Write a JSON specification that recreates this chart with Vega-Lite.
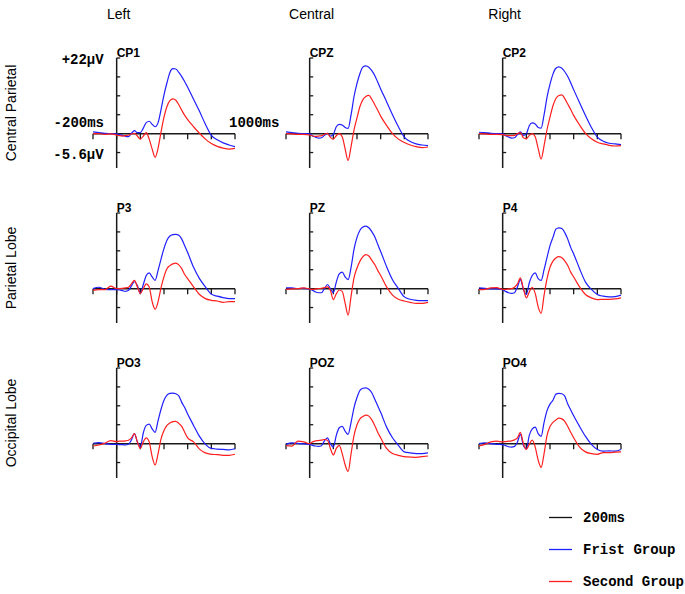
{
"$schema": "https://vega.github.io/schema/vega-lite/v6.json",
"padding": {"left": 5, "top": 8, "right": 5, "bottom": 5},
"background": "white",
"bounds": "flush",
"config": {"view": {"stroke": null}, "font": "Liberation Sans"},
"data": {"values": [
{"k":"lab","p":"CP1"},{"k":"lab","p":"CPZ"},{"k":"lab","p":"CP2"},{"k":"lab","p":"P3"},{"k":"lab","p":"PZ"},{"k":"lab","p":"P4"},{"k":"lab","p":"PO3"},{"k":"lab","p":"POZ"},{"k":"lab","p":"PO4"},
{"k":"col","p":"CP1","txt":"Left"},{"k":"col","p":"CPZ","txt":"Central"},{"k":"col","p":"CP2","txt":"Right"},
{"k":"ya","p":"CP1","v":22,"txt":"+22µV"},{"k":"ya","p":"CP1","v":-5.6,"txt":"-5.6µV"},
{"k":"xa0","p":"CP1","t":-200,"txt":"-200ms"},{"k":"xa1","p":"CP1","t":1000,"txt":"1000ms"},
{"k":"xt","p":"CP1","t":-200},{"k":"xt","p":"CP1","t":0},{"k":"xt","p":"CP1","t":200},{"k":"xt","p":"CP1","t":400},{"k":"xt","p":"CP1","t":600},{"k":"xt","p":"CP1","t":800},{"k":"xt","p":"CP1","t":1000},
{"k":"xt","p":"CPZ","t":-200},{"k":"xt","p":"CPZ","t":0},{"k":"xt","p":"CPZ","t":200},{"k":"xt","p":"CPZ","t":400},{"k":"xt","p":"CPZ","t":600},{"k":"xt","p":"CPZ","t":800},{"k":"xt","p":"CPZ","t":1000},
{"k":"xt","p":"CP2","t":-200},{"k":"xt","p":"CP2","t":0},{"k":"xt","p":"CP2","t":200},{"k":"xt","p":"CP2","t":400},{"k":"xt","p":"CP2","t":600},{"k":"xt","p":"CP2","t":800},{"k":"xt","p":"CP2","t":1000},
{"k":"xt","p":"P3","t":-200},{"k":"xt","p":"P3","t":0},{"k":"xt","p":"P3","t":200},{"k":"xt","p":"P3","t":400},{"k":"xt","p":"P3","t":600},{"k":"xt","p":"P3","t":800},{"k":"xt","p":"P3","t":1000},
{"k":"xt","p":"PZ","t":-200},{"k":"xt","p":"PZ","t":0},{"k":"xt","p":"PZ","t":200},{"k":"xt","p":"PZ","t":400},{"k":"xt","p":"PZ","t":600},{"k":"xt","p":"PZ","t":800},{"k":"xt","p":"PZ","t":1000},
{"k":"xt","p":"P4","t":-200},{"k":"xt","p":"P4","t":0},{"k":"xt","p":"P4","t":200},{"k":"xt","p":"P4","t":400},{"k":"xt","p":"P4","t":600},{"k":"xt","p":"P4","t":800},{"k":"xt","p":"P4","t":1000},
{"k":"xt","p":"PO3","t":-200},{"k":"xt","p":"PO3","t":0},{"k":"xt","p":"PO3","t":200},{"k":"xt","p":"PO3","t":400},{"k":"xt","p":"PO3","t":600},{"k":"xt","p":"PO3","t":800},{"k":"xt","p":"PO3","t":1000},
{"k":"xt","p":"POZ","t":-200},{"k":"xt","p":"POZ","t":0},{"k":"xt","p":"POZ","t":200},{"k":"xt","p":"POZ","t":400},{"k":"xt","p":"POZ","t":600},{"k":"xt","p":"POZ","t":800},{"k":"xt","p":"POZ","t":1000},
{"k":"xt","p":"PO4","t":-200},{"k":"xt","p":"PO4","t":0},{"k":"xt","p":"PO4","t":200},{"k":"xt","p":"PO4","t":400},{"k":"xt","p":"PO4","t":600},{"k":"xt","p":"PO4","t":800},{"k":"xt","p":"PO4","t":1000},
{"k":"yt","p":"CP1","v":-5.5},{"k":"yt","p":"CP1","v":5.5},{"k":"yt","p":"CP1","v":11},{"k":"yt","p":"CP1","v":16.5},{"k":"yt","p":"CP1","v":22},
{"k":"yt","p":"CPZ","v":-5.5},{"k":"yt","p":"CPZ","v":5.5},{"k":"yt","p":"CPZ","v":11},{"k":"yt","p":"CPZ","v":16.5},{"k":"yt","p":"CPZ","v":22},
{"k":"yt","p":"CP2","v":-5.5},{"k":"yt","p":"CP2","v":5.5},{"k":"yt","p":"CP2","v":11},{"k":"yt","p":"CP2","v":16.5},{"k":"yt","p":"CP2","v":22},
{"k":"yt","p":"P3","v":-5.5},{"k":"yt","p":"P3","v":5.5},{"k":"yt","p":"P3","v":11},{"k":"yt","p":"P3","v":16.5},{"k":"yt","p":"P3","v":22},
{"k":"yt","p":"PZ","v":-5.5},{"k":"yt","p":"PZ","v":5.5},{"k":"yt","p":"PZ","v":11},{"k":"yt","p":"PZ","v":16.5},{"k":"yt","p":"PZ","v":22},
{"k":"yt","p":"P4","v":-5.5},{"k":"yt","p":"P4","v":5.5},{"k":"yt","p":"P4","v":11},{"k":"yt","p":"P4","v":16.5},{"k":"yt","p":"P4","v":22},
{"k":"yt","p":"PO3","v":-5.5},{"k":"yt","p":"PO3","v":5.5},{"k":"yt","p":"PO3","v":11},{"k":"yt","p":"PO3","v":16.5},{"k":"yt","p":"PO3","v":22},
{"k":"yt","p":"POZ","v":-5.5},{"k":"yt","p":"POZ","v":5.5},{"k":"yt","p":"POZ","v":11},{"k":"yt","p":"POZ","v":16.5},{"k":"yt","p":"POZ","v":22},
{"k":"yt","p":"PO4","v":-5.5},{"k":"yt","p":"PO4","v":5.5},{"k":"yt","p":"PO4","v":11},{"k":"yt","p":"PO4","v":16.5},{"k":"yt","p":"PO4","v":22},

{"k":"w","p":"CP1","g":"Frist Group","t":-200,"v":0.5},{"k":"w","p":"CP1","g":"Frist Group","t":-150,"v":0.3},{"k":"w","p":"CP1","g":"Frist Group","t":-100,"v":0.1},{"k":"w","p":"CP1","g":"Frist Group","t":-50,"v":0},{"k":"w","p":"CP1","g":"Frist Group","t":0,"v":-0.1},{"k":"w","p":"CP1","g":"Frist Group","t":25,"v":-0.3},{"k":"w","p":"CP1","g":"Frist Group","t":50,"v":-0.5},{"k":"w","p":"CP1","g":"Frist Group","t":75,"v":-0.8},{"k":"w","p":"CP1","g":"Frist Group","t":100,"v":-0.9},{"k":"w","p":"CP1","g":"Frist Group","t":125,"v":0.1},{"k":"w","p":"CP1","g":"Frist Group","t":150,"v":0.9},{"k":"w","p":"CP1","g":"Frist Group","t":175,"v":0.3},{"k":"w","p":"CP1","g":"Frist Group","t":200,"v":0.3},{"k":"w","p":"CP1","g":"Frist Group","t":225,"v":1.6},{"k":"w","p":"CP1","g":"Frist Group","t":250,"v":3.2},{"k":"w","p":"CP1","g":"Frist Group","t":275,"v":3.6},{"k":"w","p":"CP1","g":"Frist Group","t":300,"v":2.7},{"k":"w","p":"CP1","g":"Frist Group","t":325,"v":2.0},{"k":"w","p":"CP1","g":"Frist Group","t":350,"v":3.2},{"k":"w","p":"CP1","g":"Frist Group","t":375,"v":7.0},{"k":"w","p":"CP1","g":"Frist Group","t":400,"v":11.3},{"k":"w","p":"CP1","g":"Frist Group","t":425,"v":14.8},{"k":"w","p":"CP1","g":"Frist Group","t":450,"v":17.8},{"k":"w","p":"CP1","g":"Frist Group","t":475,"v":18.9},{"k":"w","p":"CP1","g":"Frist Group","t":500,"v":18.8},{"k":"w","p":"CP1","g":"Frist Group","t":525,"v":17.8},{"k":"w","p":"CP1","g":"Frist Group","t":550,"v":16.6},{"k":"w","p":"CP1","g":"Frist Group","t":575,"v":15.1},{"k":"w","p":"CP1","g":"Frist Group","t":600,"v":13.5},{"k":"w","p":"CP1","g":"Frist Group","t":650,"v":10.0},{"k":"w","p":"CP1","g":"Frist Group","t":700,"v":6.5},{"k":"w","p":"CP1","g":"Frist Group","t":750,"v":2.7},{"k":"w","p":"CP1","g":"Frist Group","t":800,"v":-0.5},{"k":"w","p":"CP1","g":"Frist Group","t":850,"v":-1.8},{"k":"w","p":"CP1","g":"Frist Group","t":900,"v":-2.7},{"k":"w","p":"CP1","g":"Frist Group","t":950,"v":-3.3},{"k":"w","p":"CP1","g":"Frist Group","t":1000,"v":-3.8},
{"k":"w","p":"CP1","g":"Second Group","t":-200,"v":0},{"k":"w","p":"CP1","g":"Second Group","t":-150,"v":0},{"k":"w","p":"CP1","g":"Second Group","t":-100,"v":-0.2},{"k":"w","p":"CP1","g":"Second Group","t":-50,"v":-0.1},{"k":"w","p":"CP1","g":"Second Group","t":0,"v":-0.4},{"k":"w","p":"CP1","g":"Second Group","t":25,"v":-0.6},{"k":"w","p":"CP1","g":"Second Group","t":50,"v":-0.7},{"k":"w","p":"CP1","g":"Second Group","t":75,"v":-0.6},{"k":"w","p":"CP1","g":"Second Group","t":100,"v":-0.4},{"k":"w","p":"CP1","g":"Second Group","t":125,"v":-0.1},{"k":"w","p":"CP1","g":"Second Group","t":150,"v":0.1},{"k":"w","p":"CP1","g":"Second Group","t":175,"v":-0.7},{"k":"w","p":"CP1","g":"Second Group","t":200,"v":-1.6},{"k":"w","p":"CP1","g":"Second Group","t":225,"v":-0.7},{"k":"w","p":"CP1","g":"Second Group","t":250,"v":0.3},{"k":"w","p":"CP1","g":"Second Group","t":275,"v":-1.6},{"k":"w","p":"CP1","g":"Second Group","t":300,"v":-4.5},{"k":"w","p":"CP1","g":"Second Group","t":325,"v":-6.9},{"k":"w","p":"CP1","g":"Second Group","t":350,"v":-4.2},{"k":"w","p":"CP1","g":"Second Group","t":375,"v":0.5},{"k":"w","p":"CP1","g":"Second Group","t":400,"v":4.8},{"k":"w","p":"CP1","g":"Second Group","t":425,"v":7.9},{"k":"w","p":"CP1","g":"Second Group","t":450,"v":9.6},{"k":"w","p":"CP1","g":"Second Group","t":475,"v":10.1},{"k":"w","p":"CP1","g":"Second Group","t":500,"v":9.7},{"k":"w","p":"CP1","g":"Second Group","t":525,"v":8.4},{"k":"w","p":"CP1","g":"Second Group","t":550,"v":6.8},{"k":"w","p":"CP1","g":"Second Group","t":575,"v":5.3},{"k":"w","p":"CP1","g":"Second Group","t":600,"v":4.1},{"k":"w","p":"CP1","g":"Second Group","t":650,"v":2.0},{"k":"w","p":"CP1","g":"Second Group","t":700,"v":0.1},{"k":"w","p":"CP1","g":"Second Group","t":750,"v":-1.6},{"k":"w","p":"CP1","g":"Second Group","t":800,"v":-2.9},{"k":"w","p":"CP1","g":"Second Group","t":850,"v":-3.7},{"k":"w","p":"CP1","g":"Second Group","t":900,"v":-4.2},{"k":"w","p":"CP1","g":"Second Group","t":950,"v":-4.5},{"k":"w","p":"CP1","g":"Second Group","t":1000,"v":-4.3},

{"k":"w","p":"CPZ","g":"Frist Group","t":-200,"v":0.5},{"k":"w","p":"CPZ","g":"Frist Group","t":-150,"v":0.3},{"k":"w","p":"CPZ","g":"Frist Group","t":-100,"v":0.1},{"k":"w","p":"CPZ","g":"Frist Group","t":-50,"v":0},{"k":"w","p":"CPZ","g":"Frist Group","t":0,"v":-0.1},{"k":"w","p":"CPZ","g":"Frist Group","t":25,"v":-0.7},{"k":"w","p":"CPZ","g":"Frist Group","t":50,"v":-1.0},{"k":"w","p":"CPZ","g":"Frist Group","t":75,"v":-1.3},{"k":"w","p":"CPZ","g":"Frist Group","t":100,"v":-1.2},{"k":"w","p":"CPZ","g":"Frist Group","t":125,"v":-0.5},{"k":"w","p":"CPZ","g":"Frist Group","t":150,"v":0.1},{"k":"w","p":"CPZ","g":"Frist Group","t":175,"v":-0.7},{"k":"w","p":"CPZ","g":"Frist Group","t":200,"v":-0.2},{"k":"w","p":"CPZ","g":"Frist Group","t":225,"v":2.0},{"k":"w","p":"CPZ","g":"Frist Group","t":250,"v":2.7},{"k":"w","p":"CPZ","g":"Frist Group","t":275,"v":2.5},{"k":"w","p":"CPZ","g":"Frist Group","t":300,"v":1.8},{"k":"w","p":"CPZ","g":"Frist Group","t":325,"v":1.5},{"k":"w","p":"CPZ","g":"Frist Group","t":350,"v":5.5},{"k":"w","p":"CPZ","g":"Frist Group","t":375,"v":10.8},{"k":"w","p":"CPZ","g":"Frist Group","t":400,"v":14.6},{"k":"w","p":"CPZ","g":"Frist Group","t":425,"v":17.5},{"k":"w","p":"CPZ","g":"Frist Group","t":450,"v":19.4},{"k":"w","p":"CPZ","g":"Frist Group","t":475,"v":19.7},{"k":"w","p":"CPZ","g":"Frist Group","t":500,"v":19.3},{"k":"w","p":"CPZ","g":"Frist Group","t":525,"v":18.3},{"k":"w","p":"CPZ","g":"Frist Group","t":550,"v":16.9},{"k":"w","p":"CPZ","g":"Frist Group","t":575,"v":15.0},{"k":"w","p":"CPZ","g":"Frist Group","t":600,"v":13.0},{"k":"w","p":"CPZ","g":"Frist Group","t":650,"v":9.3},{"k":"w","p":"CPZ","g":"Frist Group","t":700,"v":5.5},{"k":"w","p":"CPZ","g":"Frist Group","t":750,"v":2.0},{"k":"w","p":"CPZ","g":"Frist Group","t":800,"v":-1.0},{"k":"w","p":"CPZ","g":"Frist Group","t":850,"v":-2.3},{"k":"w","p":"CPZ","g":"Frist Group","t":900,"v":-3.0},{"k":"w","p":"CPZ","g":"Frist Group","t":950,"v":-3.3},{"k":"w","p":"CPZ","g":"Frist Group","t":1000,"v":-3.5},
{"k":"w","p":"CPZ","g":"Second Group","t":-200,"v":0},{"k":"w","p":"CPZ","g":"Second Group","t":-150,"v":-0.1},{"k":"w","p":"CPZ","g":"Second Group","t":-100,"v":-0.2},{"k":"w","p":"CPZ","g":"Second Group","t":-50,"v":-0.2},{"k":"w","p":"CPZ","g":"Second Group","t":0,"v":-0.4},{"k":"w","p":"CPZ","g":"Second Group","t":25,"v":-0.7},{"k":"w","p":"CPZ","g":"Second Group","t":50,"v":-0.8},{"k":"w","p":"CPZ","g":"Second Group","t":75,"v":-0.7},{"k":"w","p":"CPZ","g":"Second Group","t":100,"v":-0.6},{"k":"w","p":"CPZ","g":"Second Group","t":125,"v":-0.2},{"k":"w","p":"CPZ","g":"Second Group","t":150,"v":0.1},{"k":"w","p":"CPZ","g":"Second Group","t":175,"v":-1.1},{"k":"w","p":"CPZ","g":"Second Group","t":200,"v":-1.6},{"k":"w","p":"CPZ","g":"Second Group","t":225,"v":-0.6},{"k":"w","p":"CPZ","g":"Second Group","t":250,"v":0},{"k":"w","p":"CPZ","g":"Second Group","t":275,"v":-0.9},{"k":"w","p":"CPZ","g":"Second Group","t":300,"v":-4.5},{"k":"w","p":"CPZ","g":"Second Group","t":325,"v":-7.8},{"k":"w","p":"CPZ","g":"Second Group","t":350,"v":-3.7},{"k":"w","p":"CPZ","g":"Second Group","t":375,"v":1.1},{"k":"w","p":"CPZ","g":"Second Group","t":400,"v":4.6},{"k":"w","p":"CPZ","g":"Second Group","t":425,"v":7.9},{"k":"w","p":"CPZ","g":"Second Group","t":450,"v":9.9},{"k":"w","p":"CPZ","g":"Second Group","t":475,"v":10.8},{"k":"w","p":"CPZ","g":"Second Group","t":500,"v":11.1},{"k":"w","p":"CPZ","g":"Second Group","t":525,"v":10.0},{"k":"w","p":"CPZ","g":"Second Group","t":550,"v":8.4},{"k":"w","p":"CPZ","g":"Second Group","t":575,"v":6.8},{"k":"w","p":"CPZ","g":"Second Group","t":600,"v":5.1},{"k":"w","p":"CPZ","g":"Second Group","t":650,"v":2.4},{"k":"w","p":"CPZ","g":"Second Group","t":700,"v":0},{"k":"w","p":"CPZ","g":"Second Group","t":750,"v":-1.6},{"k":"w","p":"CPZ","g":"Second Group","t":800,"v":-2.6},{"k":"w","p":"CPZ","g":"Second Group","t":850,"v":-3.3},{"k":"w","p":"CPZ","g":"Second Group","t":900,"v":-3.8},{"k":"w","p":"CPZ","g":"Second Group","t":950,"v":-4.1},{"k":"w","p":"CPZ","g":"Second Group","t":1000,"v":-3.9},

{"k":"w","p":"CP2","g":"Frist Group","t":-200,"v":0.4},{"k":"w","p":"CP2","g":"Frist Group","t":-150,"v":0.3},{"k":"w","p":"CP2","g":"Frist Group","t":-100,"v":0.1},{"k":"w","p":"CP2","g":"Frist Group","t":-50,"v":0},{"k":"w","p":"CP2","g":"Frist Group","t":0,"v":-0.1},{"k":"w","p":"CP2","g":"Frist Group","t":25,"v":-0.6},{"k":"w","p":"CP2","g":"Frist Group","t":50,"v":-1.0},{"k":"w","p":"CP2","g":"Frist Group","t":75,"v":-1.3},{"k":"w","p":"CP2","g":"Frist Group","t":100,"v":-1.2},{"k":"w","p":"CP2","g":"Frist Group","t":125,"v":-0.3},{"k":"w","p":"CP2","g":"Frist Group","t":150,"v":0.5},{"k":"w","p":"CP2","g":"Frist Group","t":175,"v":-0.5},{"k":"w","p":"CP2","g":"Frist Group","t":200,"v":0},{"k":"w","p":"CP2","g":"Frist Group","t":225,"v":2.3},{"k":"w","p":"CP2","g":"Frist Group","t":250,"v":3.1},{"k":"w","p":"CP2","g":"Frist Group","t":275,"v":2.8},{"k":"w","p":"CP2","g":"Frist Group","t":300,"v":1.8},{"k":"w","p":"CP2","g":"Frist Group","t":325,"v":1.6},{"k":"w","p":"CP2","g":"Frist Group","t":350,"v":5.5},{"k":"w","p":"CP2","g":"Frist Group","t":375,"v":10.6},{"k":"w","p":"CP2","g":"Frist Group","t":400,"v":14.4},{"k":"w","p":"CP2","g":"Frist Group","t":425,"v":17.3},{"k":"w","p":"CP2","g":"Frist Group","t":450,"v":19.0},{"k":"w","p":"CP2","g":"Frist Group","t":475,"v":19.4},{"k":"w","p":"CP2","g":"Frist Group","t":500,"v":19.0},{"k":"w","p":"CP2","g":"Frist Group","t":525,"v":18.0},{"k":"w","p":"CP2","g":"Frist Group","t":550,"v":16.6},{"k":"w","p":"CP2","g":"Frist Group","t":575,"v":14.8},{"k":"w","p":"CP2","g":"Frist Group","t":600,"v":12.8},{"k":"w","p":"CP2","g":"Frist Group","t":650,"v":9.0},{"k":"w","p":"CP2","g":"Frist Group","t":700,"v":5.3},{"k":"w","p":"CP2","g":"Frist Group","t":750,"v":1.8},{"k":"w","p":"CP2","g":"Frist Group","t":800,"v":-1.0},{"k":"w","p":"CP2","g":"Frist Group","t":850,"v":-2.2},{"k":"w","p":"CP2","g":"Frist Group","t":900,"v":-2.8},{"k":"w","p":"CP2","g":"Frist Group","t":950,"v":-3.0},{"k":"w","p":"CP2","g":"Frist Group","t":1000,"v":-3.2},
{"k":"w","p":"CP2","g":"Second Group","t":-200,"v":0},{"k":"w","p":"CP2","g":"Second Group","t":-150,"v":-0.1},{"k":"w","p":"CP2","g":"Second Group","t":-100,"v":-0.2},{"k":"w","p":"CP2","g":"Second Group","t":-50,"v":-0.2},{"k":"w","p":"CP2","g":"Second Group","t":0,"v":-0.3},{"k":"w","p":"CP2","g":"Second Group","t":25,"v":-0.5},{"k":"w","p":"CP2","g":"Second Group","t":50,"v":-0.6},{"k":"w","p":"CP2","g":"Second Group","t":75,"v":-0.6},{"k":"w","p":"CP2","g":"Second Group","t":100,"v":-0.5},{"k":"w","p":"CP2","g":"Second Group","t":125,"v":0},{"k":"w","p":"CP2","g":"Second Group","t":150,"v":0.3},{"k":"w","p":"CP2","g":"Second Group","t":175,"v":-1.2},{"k":"w","p":"CP2","g":"Second Group","t":200,"v":-1.5},{"k":"w","p":"CP2","g":"Second Group","t":225,"v":-0.5},{"k":"w","p":"CP2","g":"Second Group","t":250,"v":0},{"k":"w","p":"CP2","g":"Second Group","t":275,"v":-0.9},{"k":"w","p":"CP2","g":"Second Group","t":300,"v":-4.3},{"k":"w","p":"CP2","g":"Second Group","t":325,"v":-7.4},{"k":"w","p":"CP2","g":"Second Group","t":350,"v":-3.5},{"k":"w","p":"CP2","g":"Second Group","t":375,"v":1.2},{"k":"w","p":"CP2","g":"Second Group","t":400,"v":4.8},{"k":"w","p":"CP2","g":"Second Group","t":425,"v":8.1},{"k":"w","p":"CP2","g":"Second Group","t":450,"v":10.2},{"k":"w","p":"CP2","g":"Second Group","t":475,"v":11.1},{"k":"w","p":"CP2","g":"Second Group","t":500,"v":11.3},{"k":"w","p":"CP2","g":"Second Group","t":525,"v":10.2},{"k":"w","p":"CP2","g":"Second Group","t":550,"v":8.6},{"k":"w","p":"CP2","g":"Second Group","t":575,"v":7.0},{"k":"w","p":"CP2","g":"Second Group","t":600,"v":5.3},{"k":"w","p":"CP2","g":"Second Group","t":650,"v":2.5},{"k":"w","p":"CP2","g":"Second Group","t":700,"v":0.1},{"k":"w","p":"CP2","g":"Second Group","t":750,"v":-1.5},{"k":"w","p":"CP2","g":"Second Group","t":800,"v":-2.5},{"k":"w","p":"CP2","g":"Second Group","t":850,"v":-3.0},{"k":"w","p":"CP2","g":"Second Group","t":900,"v":-3.4},{"k":"w","p":"CP2","g":"Second Group","t":950,"v":-3.6},{"k":"w","p":"CP2","g":"Second Group","t":1000,"v":-3.5},

{"k":"w","p":"P3","g":"Frist Group","t":-200,"v":0},{"k":"w","p":"P3","g":"Frist Group","t":-150,"v":0.4},{"k":"w","p":"P3","g":"Frist Group","t":-100,"v":-0.2},{"k":"w","p":"P3","g":"Frist Group","t":-50,"v":-0.3},{"k":"w","p":"P3","g":"Frist Group","t":0,"v":-0.3},{"k":"w","p":"P3","g":"Frist Group","t":25,"v":-0.4},{"k":"w","p":"P3","g":"Frist Group","t":50,"v":-0.6},{"k":"w","p":"P3","g":"Frist Group","t":75,"v":-0.8},{"k":"w","p":"P3","g":"Frist Group","t":100,"v":-0.5},{"k":"w","p":"P3","g":"Frist Group","t":125,"v":0.8},{"k":"w","p":"P3","g":"Frist Group","t":150,"v":2.0},{"k":"w","p":"P3","g":"Frist Group","t":175,"v":0.9},{"k":"w","p":"P3","g":"Frist Group","t":200,"v":-1.4},{"k":"w","p":"P3","g":"Frist Group","t":225,"v":1.2},{"k":"w","p":"P3","g":"Frist Group","t":250,"v":3.8},{"k":"w","p":"P3","g":"Frist Group","t":275,"v":4.6},{"k":"w","p":"P3","g":"Frist Group","t":300,"v":3.4},{"k":"w","p":"P3","g":"Frist Group","t":325,"v":2.4},{"k":"w","p":"P3","g":"Frist Group","t":350,"v":5.3},{"k":"w","p":"P3","g":"Frist Group","t":375,"v":8.6},{"k":"w","p":"P3","g":"Frist Group","t":400,"v":11.7},{"k":"w","p":"P3","g":"Frist Group","t":425,"v":14.1},{"k":"w","p":"P3","g":"Frist Group","t":450,"v":15.3},{"k":"w","p":"P3","g":"Frist Group","t":475,"v":15.7},{"k":"w","p":"P3","g":"Frist Group","t":500,"v":15.8},{"k":"w","p":"P3","g":"Frist Group","t":525,"v":15.5},{"k":"w","p":"P3","g":"Frist Group","t":550,"v":14.4},{"k":"w","p":"P3","g":"Frist Group","t":575,"v":12.5},{"k":"w","p":"P3","g":"Frist Group","t":600,"v":10.5},{"k":"w","p":"P3","g":"Frist Group","t":650,"v":6.2},{"k":"w","p":"P3","g":"Frist Group","t":700,"v":2.9},{"k":"w","p":"P3","g":"Frist Group","t":750,"v":0.5},{"k":"w","p":"P3","g":"Frist Group","t":800,"v":-1.6},{"k":"w","p":"P3","g":"Frist Group","t":850,"v":-2.2},{"k":"w","p":"P3","g":"Frist Group","t":900,"v":-2.6},{"k":"w","p":"P3","g":"Frist Group","t":950,"v":-2.9},{"k":"w","p":"P3","g":"Frist Group","t":1000,"v":-2.9},
{"k":"w","p":"P3","g":"Second Group","t":-200,"v":-0.5},{"k":"w","p":"P3","g":"Second Group","t":-150,"v":-0.3},{"k":"w","p":"P3","g":"Second Group","t":-100,"v":-0.3},{"k":"w","p":"P3","g":"Second Group","t":-50,"v":0.7},{"k":"w","p":"P3","g":"Second Group","t":0,"v":0},{"k":"w","p":"P3","g":"Second Group","t":25,"v":0},{"k":"w","p":"P3","g":"Second Group","t":50,"v":0.1},{"k":"w","p":"P3","g":"Second Group","t":75,"v":0.2},{"k":"w","p":"P3","g":"Second Group","t":100,"v":0.4},{"k":"w","p":"P3","g":"Second Group","t":125,"v":1.4},{"k":"w","p":"P3","g":"Second Group","t":150,"v":2.4},{"k":"w","p":"P3","g":"Second Group","t":175,"v":0.5},{"k":"w","p":"P3","g":"Second Group","t":200,"v":-1.4},{"k":"w","p":"P3","g":"Second Group","t":225,"v":0},{"k":"w","p":"P3","g":"Second Group","t":250,"v":1.4},{"k":"w","p":"P3","g":"Second Group","t":275,"v":0.5},{"k":"w","p":"P3","g":"Second Group","t":300,"v":-3.8},{"k":"w","p":"P3","g":"Second Group","t":325,"v":-6.0},{"k":"w","p":"P3","g":"Second Group","t":350,"v":-3.8},{"k":"w","p":"P3","g":"Second Group","t":375,"v":0.3},{"k":"w","p":"P3","g":"Second Group","t":400,"v":3.5},{"k":"w","p":"P3","g":"Second Group","t":425,"v":5.8},{"k":"w","p":"P3","g":"Second Group","t":450,"v":6.7},{"k":"w","p":"P3","g":"Second Group","t":475,"v":7.2},{"k":"w","p":"P3","g":"Second Group","t":500,"v":7.4},{"k":"w","p":"P3","g":"Second Group","t":525,"v":6.9},{"k":"w","p":"P3","g":"Second Group","t":550,"v":5.8},{"k":"w","p":"P3","g":"Second Group","t":575,"v":4.1},{"k":"w","p":"P3","g":"Second Group","t":600,"v":2.9},{"k":"w","p":"P3","g":"Second Group","t":650,"v":0.5},{"k":"w","p":"P3","g":"Second Group","t":700,"v":-1.7},{"k":"w","p":"P3","g":"Second Group","t":750,"v":-2.9},{"k":"w","p":"P3","g":"Second Group","t":800,"v":-3.4},{"k":"w","p":"P3","g":"Second Group","t":850,"v":-3.6},{"k":"w","p":"P3","g":"Second Group","t":900,"v":-4.0},{"k":"w","p":"P3","g":"Second Group","t":950,"v":-3.8},{"k":"w","p":"P3","g":"Second Group","t":1000,"v":-3.8},

{"k":"w","p":"PZ","g":"Frist Group","t":-200,"v":0.2},{"k":"w","p":"PZ","g":"Frist Group","t":-150,"v":0.2},{"k":"w","p":"PZ","g":"Frist Group","t":-100,"v":0},{"k":"w","p":"PZ","g":"Frist Group","t":-50,"v":0.1},{"k":"w","p":"PZ","g":"Frist Group","t":0,"v":-0.1},{"k":"w","p":"PZ","g":"Frist Group","t":25,"v":-0.5},{"k":"w","p":"PZ","g":"Frist Group","t":50,"v":-1.0},{"k":"w","p":"PZ","g":"Frist Group","t":75,"v":-1.2},{"k":"w","p":"PZ","g":"Frist Group","t":100,"v":-1.2},{"k":"w","p":"PZ","g":"Frist Group","t":125,"v":0},{"k":"w","p":"PZ","g":"Frist Group","t":150,"v":1.2},{"k":"w","p":"PZ","g":"Frist Group","t":175,"v":0},{"k":"w","p":"PZ","g":"Frist Group","t":200,"v":-1.2},{"k":"w","p":"PZ","g":"Frist Group","t":225,"v":1.9},{"k":"w","p":"PZ","g":"Frist Group","t":250,"v":4.3},{"k":"w","p":"PZ","g":"Frist Group","t":275,"v":4.8},{"k":"w","p":"PZ","g":"Frist Group","t":300,"v":3.4},{"k":"w","p":"PZ","g":"Frist Group","t":325,"v":2.6},{"k":"w","p":"PZ","g":"Frist Group","t":350,"v":6.2},{"k":"w","p":"PZ","g":"Frist Group","t":375,"v":11.5},{"k":"w","p":"PZ","g":"Frist Group","t":400,"v":14.9},{"k":"w","p":"PZ","g":"Frist Group","t":425,"v":17.0},{"k":"w","p":"PZ","g":"Frist Group","t":450,"v":17.9},{"k":"w","p":"PZ","g":"Frist Group","t":475,"v":18.2},{"k":"w","p":"PZ","g":"Frist Group","t":500,"v":17.7},{"k":"w","p":"PZ","g":"Frist Group","t":525,"v":16.6},{"k":"w","p":"PZ","g":"Frist Group","t":550,"v":15.1},{"k":"w","p":"PZ","g":"Frist Group","t":575,"v":12.9},{"k":"w","p":"PZ","g":"Frist Group","t":600,"v":10.8},{"k":"w","p":"PZ","g":"Frist Group","t":650,"v":6.4},{"k":"w","p":"PZ","g":"Frist Group","t":700,"v":2.6},{"k":"w","p":"PZ","g":"Frist Group","t":750,"v":0},{"k":"w","p":"PZ","g":"Frist Group","t":800,"v":-2.4},{"k":"w","p":"PZ","g":"Frist Group","t":850,"v":-3.1},{"k":"w","p":"PZ","g":"Frist Group","t":900,"v":-3.4},{"k":"w","p":"PZ","g":"Frist Group","t":950,"v":-3.5},{"k":"w","p":"PZ","g":"Frist Group","t":1000,"v":-3.5},
{"k":"w","p":"PZ","g":"Second Group","t":-200,"v":-0.2},{"k":"w","p":"PZ","g":"Second Group","t":-150,"v":-0.1},{"k":"w","p":"PZ","g":"Second Group","t":-100,"v":0},{"k":"w","p":"PZ","g":"Second Group","t":-50,"v":0.2},{"k":"w","p":"PZ","g":"Second Group","t":0,"v":-0.1},{"k":"w","p":"PZ","g":"Second Group","t":25,"v":-0.2},{"k":"w","p":"PZ","g":"Second Group","t":50,"v":-0.1},{"k":"w","p":"PZ","g":"Second Group","t":75,"v":0},{"k":"w","p":"PZ","g":"Second Group","t":100,"v":0.1},{"k":"w","p":"PZ","g":"Second Group","t":125,"v":0.3},{"k":"w","p":"PZ","g":"Second Group","t":150,"v":0.5},{"k":"w","p":"PZ","g":"Second Group","t":175,"v":-0.5},{"k":"w","p":"PZ","g":"Second Group","t":200,"v":-3.2},{"k":"w","p":"PZ","g":"Second Group","t":225,"v":-1.5},{"k":"w","p":"PZ","g":"Second Group","t":250,"v":-0.4},{"k":"w","p":"PZ","g":"Second Group","t":275,"v":-0.8},{"k":"w","p":"PZ","g":"Second Group","t":300,"v":-4.3},{"k":"w","p":"PZ","g":"Second Group","t":325,"v":-7.7},{"k":"w","p":"PZ","g":"Second Group","t":350,"v":-2.2},{"k":"w","p":"PZ","g":"Second Group","t":375,"v":3.2},{"k":"w","p":"PZ","g":"Second Group","t":400,"v":6.0},{"k":"w","p":"PZ","g":"Second Group","t":425,"v":8.0},{"k":"w","p":"PZ","g":"Second Group","t":450,"v":9.3},{"k":"w","p":"PZ","g":"Second Group","t":475,"v":9.9},{"k":"w","p":"PZ","g":"Second Group","t":500,"v":9.5},{"k":"w","p":"PZ","g":"Second Group","t":525,"v":8.3},{"k":"w","p":"PZ","g":"Second Group","t":550,"v":7.0},{"k":"w","p":"PZ","g":"Second Group","t":575,"v":5.3},{"k":"w","p":"PZ","g":"Second Group","t":600,"v":3.8},{"k":"w","p":"PZ","g":"Second Group","t":650,"v":0.5},{"k":"w","p":"PZ","g":"Second Group","t":700,"v":-1.9},{"k":"w","p":"PZ","g":"Second Group","t":750,"v":-3.1},{"k":"w","p":"PZ","g":"Second Group","t":800,"v":-3.6},{"k":"w","p":"PZ","g":"Second Group","t":850,"v":-4.0},{"k":"w","p":"PZ","g":"Second Group","t":900,"v":-4.3},{"k":"w","p":"PZ","g":"Second Group","t":950,"v":-4.3},{"k":"w","p":"PZ","g":"Second Group","t":1000,"v":-4.0},

{"k":"w","p":"P4","g":"Frist Group","t":-200,"v":0.2},{"k":"w","p":"P4","g":"Frist Group","t":-150,"v":0.1},{"k":"w","p":"P4","g":"Frist Group","t":-100,"v":-0.1},{"k":"w","p":"P4","g":"Frist Group","t":-50,"v":-0.1},{"k":"w","p":"P4","g":"Frist Group","t":0,"v":-0.3},{"k":"w","p":"P4","g":"Frist Group","t":25,"v":-0.8},{"k":"w","p":"P4","g":"Frist Group","t":50,"v":-1.2},{"k":"w","p":"P4","g":"Frist Group","t":75,"v":-1.4},{"k":"w","p":"P4","g":"Frist Group","t":100,"v":-1.2},{"k":"w","p":"P4","g":"Frist Group","t":125,"v":0.5},{"k":"w","p":"P4","g":"Frist Group","t":150,"v":2.6},{"k":"w","p":"P4","g":"Frist Group","t":175,"v":-0.2},{"k":"w","p":"P4","g":"Frist Group","t":200,"v":-1.7},{"k":"w","p":"P4","g":"Frist Group","t":225,"v":1.7},{"k":"w","p":"P4","g":"Frist Group","t":250,"v":3.8},{"k":"w","p":"P4","g":"Frist Group","t":275,"v":4.6},{"k":"w","p":"P4","g":"Frist Group","t":300,"v":2.9},{"k":"w","p":"P4","g":"Frist Group","t":325,"v":2.4},{"k":"w","p":"P4","g":"Frist Group","t":350,"v":5.5},{"k":"w","p":"P4","g":"Frist Group","t":375,"v":9.1},{"k":"w","p":"P4","g":"Frist Group","t":400,"v":12.5},{"k":"w","p":"P4","g":"Frist Group","t":425,"v":14.9},{"k":"w","p":"P4","g":"Frist Group","t":450,"v":17.3},{"k":"w","p":"P4","g":"Frist Group","t":475,"v":17.7},{"k":"w","p":"P4","g":"Frist Group","t":500,"v":17.5},{"k":"w","p":"P4","g":"Frist Group","t":525,"v":16.3},{"k":"w","p":"P4","g":"Frist Group","t":550,"v":14.4},{"k":"w","p":"P4","g":"Frist Group","t":575,"v":12.0},{"k":"w","p":"P4","g":"Frist Group","t":600,"v":10.1},{"k":"w","p":"P4","g":"Frist Group","t":650,"v":5.8},{"k":"w","p":"P4","g":"Frist Group","t":700,"v":1.9},{"k":"w","p":"P4","g":"Frist Group","t":750,"v":-0.2},{"k":"w","p":"P4","g":"Frist Group","t":800,"v":-1.7},{"k":"w","p":"P4","g":"Frist Group","t":850,"v":-2.2},{"k":"w","p":"P4","g":"Frist Group","t":900,"v":-2.4},{"k":"w","p":"P4","g":"Frist Group","t":950,"v":-2.3},{"k":"w","p":"P4","g":"Frist Group","t":1000,"v":-1.9},
{"k":"w","p":"P4","g":"Second Group","t":-200,"v":-0.3},{"k":"w","p":"P4","g":"Second Group","t":-150,"v":-0.2},{"k":"w","p":"P4","g":"Second Group","t":-100,"v":0.2},{"k":"w","p":"P4","g":"Second Group","t":-50,"v":0.3},{"k":"w","p":"P4","g":"Second Group","t":0,"v":-0.2},{"k":"w","p":"P4","g":"Second Group","t":25,"v":-0.2},{"k":"w","p":"P4","g":"Second Group","t":50,"v":-0.1},{"k":"w","p":"P4","g":"Second Group","t":75,"v":0},{"k":"w","p":"P4","g":"Second Group","t":100,"v":0.4},{"k":"w","p":"P4","g":"Second Group","t":125,"v":1.4},{"k":"w","p":"P4","g":"Second Group","t":150,"v":3.1},{"k":"w","p":"P4","g":"Second Group","t":175,"v":0},{"k":"w","p":"P4","g":"Second Group","t":200,"v":-2.7},{"k":"w","p":"P4","g":"Second Group","t":225,"v":-1.0},{"k":"w","p":"P4","g":"Second Group","t":250,"v":0.4},{"k":"w","p":"P4","g":"Second Group","t":275,"v":-1.4},{"k":"w","p":"P4","g":"Second Group","t":300,"v":-5.3},{"k":"w","p":"P4","g":"Second Group","t":325,"v":-7.2},{"k":"w","p":"P4","g":"Second Group","t":350,"v":-1.9},{"k":"w","p":"P4","g":"Second Group","t":375,"v":2.9},{"k":"w","p":"P4","g":"Second Group","t":400,"v":6.2},{"k":"w","p":"P4","g":"Second Group","t":425,"v":8.0},{"k":"w","p":"P4","g":"Second Group","t":450,"v":8.9},{"k":"w","p":"P4","g":"Second Group","t":475,"v":9.3},{"k":"w","p":"P4","g":"Second Group","t":500,"v":9.0},{"k":"w","p":"P4","g":"Second Group","t":525,"v":8.1},{"k":"w","p":"P4","g":"Second Group","t":550,"v":6.7},{"k":"w","p":"P4","g":"Second Group","t":575,"v":4.8},{"k":"w","p":"P4","g":"Second Group","t":600,"v":3.4},{"k":"w","p":"P4","g":"Second Group","t":650,"v":0.5},{"k":"w","p":"P4","g":"Second Group","t":700,"v":-1.7},{"k":"w","p":"P4","g":"Second Group","t":750,"v":-2.7},{"k":"w","p":"P4","g":"Second Group","t":800,"v":-3.2},{"k":"w","p":"P4","g":"Second Group","t":850,"v":-3.1},{"k":"w","p":"P4","g":"Second Group","t":900,"v":-3.1},{"k":"w","p":"P4","g":"Second Group","t":950,"v":-3.0},{"k":"w","p":"P4","g":"Second Group","t":1000,"v":-2.7},

{"k":"w","p":"PO3","g":"Frist Group","t":-200,"v":0.1},{"k":"w","p":"PO3","g":"Frist Group","t":-150,"v":0.3},{"k":"w","p":"PO3","g":"Frist Group","t":-100,"v":0},{"k":"w","p":"PO3","g":"Frist Group","t":-50,"v":-0.2},{"k":"w","p":"PO3","g":"Frist Group","t":0,"v":-0.2},{"k":"w","p":"PO3","g":"Frist Group","t":25,"v":-0.3},{"k":"w","p":"PO3","g":"Frist Group","t":50,"v":-0.3},{"k":"w","p":"PO3","g":"Frist Group","t":75,"v":-0.4},{"k":"w","p":"PO3","g":"Frist Group","t":100,"v":-0.2},{"k":"w","p":"PO3","g":"Frist Group","t":125,"v":1.1},{"k":"w","p":"PO3","g":"Frist Group","t":150,"v":2.9},{"k":"w","p":"PO3","g":"Frist Group","t":175,"v":0.5},{"k":"w","p":"PO3","g":"Frist Group","t":200,"v":-1.0},{"k":"w","p":"PO3","g":"Frist Group","t":225,"v":3.1},{"k":"w","p":"PO3","g":"Frist Group","t":250,"v":5.3},{"k":"w","p":"PO3","g":"Frist Group","t":275,"v":5.7},{"k":"w","p":"PO3","g":"Frist Group","t":300,"v":4.3},{"k":"w","p":"PO3","g":"Frist Group","t":325,"v":3.3},{"k":"w","p":"PO3","g":"Frist Group","t":350,"v":6.7},{"k":"w","p":"PO3","g":"Frist Group","t":375,"v":10.0},{"k":"w","p":"PO3","g":"Frist Group","t":400,"v":12.6},{"k":"w","p":"PO3","g":"Frist Group","t":425,"v":14.1},{"k":"w","p":"PO3","g":"Frist Group","t":450,"v":14.6},{"k":"w","p":"PO3","g":"Frist Group","t":475,"v":14.7},{"k":"w","p":"PO3","g":"Frist Group","t":500,"v":14.5},{"k":"w","p":"PO3","g":"Frist Group","t":525,"v":13.9},{"k":"w","p":"PO3","g":"Frist Group","t":550,"v":12.0},{"k":"w","p":"PO3","g":"Frist Group","t":575,"v":10.5},{"k":"w","p":"PO3","g":"Frist Group","t":600,"v":8.6},{"k":"w","p":"PO3","g":"Frist Group","t":650,"v":5.3},{"k":"w","p":"PO3","g":"Frist Group","t":700,"v":2.1},{"k":"w","p":"PO3","g":"Frist Group","t":750,"v":-0.2},{"k":"w","p":"PO3","g":"Frist Group","t":800,"v":-1.4},{"k":"w","p":"PO3","g":"Frist Group","t":850,"v":-1.6},{"k":"w","p":"PO3","g":"Frist Group","t":900,"v":-1.7},{"k":"w","p":"PO3","g":"Frist Group","t":950,"v":-1.8},{"k":"w","p":"PO3","g":"Frist Group","t":1000,"v":-1.5},
{"k":"w","p":"PO3","g":"Second Group","t":-200,"v":-0.7},{"k":"w","p":"PO3","g":"Second Group","t":-150,"v":-0.4},{"k":"w","p":"PO3","g":"Second Group","t":-100,"v":0.1},{"k":"w","p":"PO3","g":"Second Group","t":-50,"v":0.9},{"k":"w","p":"PO3","g":"Second Group","t":0,"v":0.6},{"k":"w","p":"PO3","g":"Second Group","t":25,"v":0.7},{"k":"w","p":"PO3","g":"Second Group","t":50,"v":0.7},{"k":"w","p":"PO3","g":"Second Group","t":75,"v":0.8},{"k":"w","p":"PO3","g":"Second Group","t":100,"v":1.0},{"k":"w","p":"PO3","g":"Second Group","t":125,"v":1.7},{"k":"w","p":"PO3","g":"Second Group","t":150,"v":2.9},{"k":"w","p":"PO3","g":"Second Group","t":175,"v":0.5},{"k":"w","p":"PO3","g":"Second Group","t":200,"v":-1.4},{"k":"w","p":"PO3","g":"Second Group","t":225,"v":0.5},{"k":"w","p":"PO3","g":"Second Group","t":250,"v":1.7},{"k":"w","p":"PO3","g":"Second Group","t":275,"v":0.5},{"k":"w","p":"PO3","g":"Second Group","t":300,"v":-3.8},{"k":"w","p":"PO3","g":"Second Group","t":325,"v":-6.2},{"k":"w","p":"PO3","g":"Second Group","t":350,"v":-2.9},{"k":"w","p":"PO3","g":"Second Group","t":375,"v":1.4},{"k":"w","p":"PO3","g":"Second Group","t":400,"v":3.8},{"k":"w","p":"PO3","g":"Second Group","t":425,"v":5.3},{"k":"w","p":"PO3","g":"Second Group","t":450,"v":6.0},{"k":"w","p":"PO3","g":"Second Group","t":475,"v":6.4},{"k":"w","p":"PO3","g":"Second Group","t":500,"v":6.5},{"k":"w","p":"PO3","g":"Second Group","t":525,"v":5.9},{"k":"w","p":"PO3","g":"Second Group","t":550,"v":5.0},{"k":"w","p":"PO3","g":"Second Group","t":575,"v":3.3},{"k":"w","p":"PO3","g":"Second Group","t":600,"v":1.7},{"k":"w","p":"PO3","g":"Second Group","t":650,"v":0.5},{"k":"w","p":"PO3","g":"Second Group","t":700,"v":-1.6},{"k":"w","p":"PO3","g":"Second Group","t":750,"v":-2.7},{"k":"w","p":"PO3","g":"Second Group","t":800,"v":-3.1},{"k":"w","p":"PO3","g":"Second Group","t":850,"v":-3.2},{"k":"w","p":"PO3","g":"Second Group","t":900,"v":-3.4},{"k":"w","p":"PO3","g":"Second Group","t":950,"v":-3.4},{"k":"w","p":"PO3","g":"Second Group","t":1000,"v":-3.1},

{"k":"w","p":"POZ","g":"Frist Group","t":-200,"v":-0.2},{"k":"w","p":"POZ","g":"Frist Group","t":-150,"v":0.2},{"k":"w","p":"POZ","g":"Frist Group","t":-100,"v":0.1},{"k":"w","p":"POZ","g":"Frist Group","t":-50,"v":-0.1},{"k":"w","p":"POZ","g":"Frist Group","t":0,"v":-0.2},{"k":"w","p":"POZ","g":"Frist Group","t":25,"v":-0.5},{"k":"w","p":"POZ","g":"Frist Group","t":50,"v":-0.7},{"k":"w","p":"POZ","g":"Frist Group","t":75,"v":-0.8},{"k":"w","p":"POZ","g":"Frist Group","t":100,"v":-0.6},{"k":"w","p":"POZ","g":"Frist Group","t":125,"v":0.8},{"k":"w","p":"POZ","g":"Frist Group","t":150,"v":1.7},{"k":"w","p":"POZ","g":"Frist Group","t":175,"v":0},{"k":"w","p":"POZ","g":"Frist Group","t":200,"v":-1.0},{"k":"w","p":"POZ","g":"Frist Group","t":225,"v":2.4},{"k":"w","p":"POZ","g":"Frist Group","t":250,"v":4.6},{"k":"w","p":"POZ","g":"Frist Group","t":275,"v":5.0},{"k":"w","p":"POZ","g":"Frist Group","t":300,"v":3.6},{"k":"w","p":"POZ","g":"Frist Group","t":325,"v":2.7},{"k":"w","p":"POZ","g":"Frist Group","t":350,"v":6.2},{"k":"w","p":"POZ","g":"Frist Group","t":375,"v":10.5},{"k":"w","p":"POZ","g":"Frist Group","t":400,"v":13.4},{"k":"w","p":"POZ","g":"Frist Group","t":425,"v":15.5},{"k":"w","p":"POZ","g":"Frist Group","t":450,"v":16.1},{"k":"w","p":"POZ","g":"Frist Group","t":475,"v":16.2},{"k":"w","p":"POZ","g":"Frist Group","t":500,"v":15.8},{"k":"w","p":"POZ","g":"Frist Group","t":525,"v":14.8},{"k":"w","p":"POZ","g":"Frist Group","t":550,"v":12.9},{"k":"w","p":"POZ","g":"Frist Group","t":575,"v":11.0},{"k":"w","p":"POZ","g":"Frist Group","t":600,"v":9.1},{"k":"w","p":"POZ","g":"Frist Group","t":650,"v":4.8},{"k":"w","p":"POZ","g":"Frist Group","t":700,"v":1.7},{"k":"w","p":"POZ","g":"Frist Group","t":750,"v":-0.5},{"k":"w","p":"POZ","g":"Frist Group","t":800,"v":-2.4},{"k":"w","p":"POZ","g":"Frist Group","t":850,"v":-2.7},{"k":"w","p":"POZ","g":"Frist Group","t":900,"v":-2.9},{"k":"w","p":"POZ","g":"Frist Group","t":950,"v":-2.9},{"k":"w","p":"POZ","g":"Frist Group","t":1000,"v":-2.7},
{"k":"w","p":"POZ","g":"Second Group","t":-200,"v":-0.6},{"k":"w","p":"POZ","g":"Second Group","t":-150,"v":-0.7},{"k":"w","p":"POZ","g":"Second Group","t":-100,"v":0.7},{"k":"w","p":"POZ","g":"Second Group","t":-50,"v":0.5},{"k":"w","p":"POZ","g":"Second Group","t":0,"v":0},{"k":"w","p":"POZ","g":"Second Group","t":25,"v":0.5},{"k":"w","p":"POZ","g":"Second Group","t":50,"v":0.8},{"k":"w","p":"POZ","g":"Second Group","t":75,"v":0.9},{"k":"w","p":"POZ","g":"Second Group","t":100,"v":1.0},{"k":"w","p":"POZ","g":"Second Group","t":125,"v":1.2},{"k":"w","p":"POZ","g":"Second Group","t":150,"v":1.0},{"k":"w","p":"POZ","g":"Second Group","t":175,"v":-1.4},{"k":"w","p":"POZ","g":"Second Group","t":200,"v":-3.3},{"k":"w","p":"POZ","g":"Second Group","t":225,"v":-1.4},{"k":"w","p":"POZ","g":"Second Group","t":250,"v":-0.5},{"k":"w","p":"POZ","g":"Second Group","t":275,"v":-2.9},{"k":"w","p":"POZ","g":"Second Group","t":300,"v":-6.2},{"k":"w","p":"POZ","g":"Second Group","t":325,"v":-8.1},{"k":"w","p":"POZ","g":"Second Group","t":350,"v":-2.9},{"k":"w","p":"POZ","g":"Second Group","t":375,"v":2.4},{"k":"w","p":"POZ","g":"Second Group","t":400,"v":5.5},{"k":"w","p":"POZ","g":"Second Group","t":425,"v":7.2},{"k":"w","p":"POZ","g":"Second Group","t":450,"v":7.9},{"k":"w","p":"POZ","g":"Second Group","t":475,"v":8.3},{"k":"w","p":"POZ","g":"Second Group","t":500,"v":8.0},{"k":"w","p":"POZ","g":"Second Group","t":525,"v":6.9},{"k":"w","p":"POZ","g":"Second Group","t":550,"v":5.3},{"k":"w","p":"POZ","g":"Second Group","t":575,"v":3.3},{"k":"w","p":"POZ","g":"Second Group","t":600,"v":1.7},{"k":"w","p":"POZ","g":"Second Group","t":650,"v":-1.4},{"k":"w","p":"POZ","g":"Second Group","t":700,"v":-2.9},{"k":"w","p":"POZ","g":"Second Group","t":750,"v":-3.4},{"k":"w","p":"POZ","g":"Second Group","t":800,"v":-3.8},{"k":"w","p":"POZ","g":"Second Group","t":850,"v":-3.9},{"k":"w","p":"POZ","g":"Second Group","t":900,"v":-4.0},{"k":"w","p":"POZ","g":"Second Group","t":950,"v":-3.8},{"k":"w","p":"POZ","g":"Second Group","t":1000,"v":-3.6},

{"k":"w","p":"PO4","g":"Frist Group","t":-200,"v":0},{"k":"w","p":"PO4","g":"Frist Group","t":-150,"v":0.2},{"k":"w","p":"PO4","g":"Frist Group","t":-100,"v":0},{"k":"w","p":"PO4","g":"Frist Group","t":-50,"v":-0.2},{"k":"w","p":"PO4","g":"Frist Group","t":0,"v":-0.3},{"k":"w","p":"PO4","g":"Frist Group","t":25,"v":-0.6},{"k":"w","p":"PO4","g":"Frist Group","t":50,"v":-0.9},{"k":"w","p":"PO4","g":"Frist Group","t":75,"v":-1.0},{"k":"w","p":"PO4","g":"Frist Group","t":100,"v":-0.8},{"k":"w","p":"PO4","g":"Frist Group","t":125,"v":0.5},{"k":"w","p":"PO4","g":"Frist Group","t":150,"v":2.7},{"k":"w","p":"PO4","g":"Frist Group","t":175,"v":-0.5},{"k":"w","p":"PO4","g":"Frist Group","t":200,"v":-1.5},{"k":"w","p":"PO4","g":"Frist Group","t":225,"v":2.4},{"k":"w","p":"PO4","g":"Frist Group","t":250,"v":4.3},{"k":"w","p":"PO4","g":"Frist Group","t":275,"v":4.8},{"k":"w","p":"PO4","g":"Frist Group","t":300,"v":2.9},{"k":"w","p":"PO4","g":"Frist Group","t":325,"v":2.1},{"k":"w","p":"PO4","g":"Frist Group","t":350,"v":6.2},{"k":"w","p":"PO4","g":"Frist Group","t":375,"v":9.6},{"k":"w","p":"PO4","g":"Frist Group","t":400,"v":11.5},{"k":"w","p":"PO4","g":"Frist Group","t":425,"v":12.6},{"k":"w","p":"PO4","g":"Frist Group","t":450,"v":14.4},{"k":"w","p":"PO4","g":"Frist Group","t":475,"v":14.6},{"k":"w","p":"PO4","g":"Frist Group","t":500,"v":14.5},{"k":"w","p":"PO4","g":"Frist Group","t":525,"v":13.8},{"k":"w","p":"PO4","g":"Frist Group","t":550,"v":11.5},{"k":"w","p":"PO4","g":"Frist Group","t":575,"v":9.8},{"k":"w","p":"PO4","g":"Frist Group","t":600,"v":8.1},{"k":"w","p":"PO4","g":"Frist Group","t":650,"v":5.0},{"k":"w","p":"PO4","g":"Frist Group","t":700,"v":2.1},{"k":"w","p":"PO4","g":"Frist Group","t":750,"v":-0.2},{"k":"w","p":"PO4","g":"Frist Group","t":800,"v":-1.7},{"k":"w","p":"PO4","g":"Frist Group","t":850,"v":-2.2},{"k":"w","p":"PO4","g":"Frist Group","t":900,"v":-2.1},{"k":"w","p":"PO4","g":"Frist Group","t":950,"v":-2.2},{"k":"w","p":"PO4","g":"Frist Group","t":1000,"v":-1.7},
{"k":"w","p":"PO4","g":"Second Group","t":-200,"v":-0.7},{"k":"w","p":"PO4","g":"Second Group","t":-150,"v":-0.2},{"k":"w","p":"PO4","g":"Second Group","t":-100,"v":0.5},{"k":"w","p":"PO4","g":"Second Group","t":-50,"v":0.7},{"k":"w","p":"PO4","g":"Second Group","t":0,"v":0.5},{"k":"w","p":"PO4","g":"Second Group","t":25,"v":0.6},{"k":"w","p":"PO4","g":"Second Group","t":50,"v":0.7},{"k":"w","p":"PO4","g":"Second Group","t":75,"v":0.8},{"k":"w","p":"PO4","g":"Second Group","t":100,"v":1.1},{"k":"w","p":"PO4","g":"Second Group","t":125,"v":1.7},{"k":"w","p":"PO4","g":"Second Group","t":150,"v":3.3},{"k":"w","p":"PO4","g":"Second Group","t":175,"v":0},{"k":"w","p":"PO4","g":"Second Group","t":200,"v":-1.7},{"k":"w","p":"PO4","g":"Second Group","t":225,"v":-0.2},{"k":"w","p":"PO4","g":"Second Group","t":250,"v":1.0},{"k":"w","p":"PO4","g":"Second Group","t":275,"v":-1.0},{"k":"w","p":"PO4","g":"Second Group","t":300,"v":-4.8},{"k":"w","p":"PO4","g":"Second Group","t":325,"v":-6.9},{"k":"w","p":"PO4","g":"Second Group","t":350,"v":-2.9},{"k":"w","p":"PO4","g":"Second Group","t":375,"v":2.4},{"k":"w","p":"PO4","g":"Second Group","t":400,"v":5.0},{"k":"w","p":"PO4","g":"Second Group","t":425,"v":6.2},{"k":"w","p":"PO4","g":"Second Group","t":450,"v":6.9},{"k":"w","p":"PO4","g":"Second Group","t":475,"v":7.4},{"k":"w","p":"PO4","g":"Second Group","t":500,"v":7.2},{"k":"w","p":"PO4","g":"Second Group","t":525,"v":6.5},{"k":"w","p":"PO4","g":"Second Group","t":550,"v":5.0},{"k":"w","p":"PO4","g":"Second Group","t":575,"v":3.3},{"k":"w","p":"PO4","g":"Second Group","t":600,"v":1.7},{"k":"w","p":"PO4","g":"Second Group","t":650,"v":-1.0},{"k":"w","p":"PO4","g":"Second Group","t":700,"v":-2.4},{"k":"w","p":"PO4","g":"Second Group","t":750,"v":-2.9},{"k":"w","p":"PO4","g":"Second Group","t":800,"v":-3.1},{"k":"w","p":"PO4","g":"Second Group","t":850,"v":-2.6},{"k":"w","p":"PO4","g":"Second Group","t":900,"v":-2.6},{"k":"w","p":"PO4","g":"Second Group","t":950,"v":-2.5},{"k":"w","p":"PO4","g":"Second Group","t":1000,"v":-2.4}
]},
"transform": [
  {"lookup": "p", "from": {"data": {"values": [
    {"p":"CP1","row":"Central Parietal","col":"Left"},{"p":"CPZ","row":"Central Parietal","col":"Central"},{"p":"CP2","row":"Central Parietal","col":"Right"},
    {"p":"P3","row":"Parietal Lobe","col":"Left"},{"p":"PZ","row":"Parietal Lobe","col":"Central"},{"p":"P4","row":"Parietal Lobe","col":"Right"},
    {"p":"PO3","row":"Occipital Lobe","col":"Left"},{"p":"POZ","row":"Occipital Lobe","col":"Central"},{"p":"PO4","row":"Occipital Lobe","col":"Right"}
  ]}, "key": "p", "fields": ["row", "col"]}}
],
"facet": {
  "row": {"field": "row", "type": "nominal", "sort": ["Central Parietal", "Parietal Lobe", "Occipital Lobe"],
    "header": {"title": null, "labelAngle": -90, "labelOrient": "left", "labelPadding": 67, "labelFontSize": 14, "labelFont": "Liberation Sans", "labelColor": "black"}},
  "column": {"field": "col", "type": "nominal", "sort": ["Left", "Central", "Right"], "header": null}
},
"spacing": {"row": 45, "column": 51},
"spec": {
  "width": 142,
  "height": 110,
  "layer": [
    {"transform": [{"filter": "datum.k === 'lab'"}],
     "mark": {"type": "rule", "color": "#1a1a1a", "strokeWidth": 1.5},
     "encoding": {
       "x": {"datum": -200, "type": "quantitative", "scale": {"domain": [-200, 1000], "nice": false, "zero": false}, "axis": null},
       "x2": {"datum": 1000},
       "y": {"datum": 0, "type": "quantitative", "scale": {"domain": [-10, 22], "nice": false, "zero": false}, "axis": null}}},
    {"transform": [{"filter": "datum.k === 'lab'"}],
     "mark": {"type": "rule", "color": "#1a1a1a", "strokeWidth": 1.5},
     "encoding": {
       "x": {"datum": 0, "type": "quantitative", "axis": null},
       "y": {"datum": -10, "type": "quantitative", "axis": null},
       "y2": {"datum": 22}}},
    {"transform": [{"filter": "datum.k === 'xt'"}],
     "mark": {"type": "rule", "color": "#1a1a1a", "strokeWidth": 1.3},
     "encoding": {
       "x": {"field": "t", "type": "quantitative", "axis": null},
       "y": {"datum": 0, "type": "quantitative", "axis": null},
       "y2": {"datum": -1.6}}},
    {"transform": [{"filter": "datum.k === 'yt'"}],
     "mark": {"type": "rule", "color": "#1a1a1a", "strokeWidth": 1.3},
     "encoding": {
       "x": {"datum": 0, "type": "quantitative", "axis": null},
       "x2": {"datum": 30},
       "y": {"field": "v", "type": "quantitative", "axis": null}}},
    {"transform": [{"filter": "datum.k === 'w'"}],
     "mark": {"type": "line", "strokeWidth": 1.2, "interpolate": "monotone"},
     "encoding": {
       "x": {"field": "t", "type": "quantitative", "axis": null},
       "y": {"field": "v", "type": "quantitative", "axis": null},
       "color": {"field": "g", "type": "nominal",
         "scale": {"domain": ["200ms", "Frist Group", "Second Group"], "range": ["#111111", "#1f1fff", "#ff1f1f"]},
         "legend": {"title": null, "orient": "none", "legendX": 455, "legendY": 447, "direction": "vertical",
           "symbolType": "stroke", "symbolSize": 529, "symbolStrokeWidth": 1.3, "rowPadding": 12, "labelLimit": 200,
           "labelFont": "Liberation Mono", "labelFontSize": 14, "labelFontWeight": "bold", "labelColor": "black", "labelOffset": 10}}}},
    {"transform": [{"filter": "datum.k === 'lab'"}],
     "mark": {"type": "text", "align": "left", "baseline": "alphabetic", "dy": -1, "font": "Liberation Sans", "fontWeight": "bold", "fontSize": 12, "color": "black"},
     "encoding": {
       "x": {"datum": 0, "type": "quantitative", "axis": null},
       "y": {"datum": 22, "type": "quantitative", "axis": null},
       "text": {"field": "p"}}},
    {"transform": [{"filter": "datum.k === 'col'"}],
     "mark": {"type": "text", "align": "center", "baseline": "middle", "dy": -43, "dx": 2, "font": "Liberation Sans", "fontSize": 14, "color": "black"},
     "encoding": {
       "x": {"datum": 0, "type": "quantitative", "axis": null},
       "y": {"datum": 22, "type": "quantitative", "axis": null},
       "text": {"field": "txt"}}},
    {"transform": [{"filter": "datum.k === 'ya'"}],
     "mark": {"type": "text", "align": "right", "baseline": "middle", "dx": -13, "dy": 2, "font": "Liberation Mono", "fontWeight": "bold", "fontSize": 14, "color": "black"},
     "encoding": {
       "x": {"datum": 0, "type": "quantitative", "axis": null},
       "y": {"field": "v", "type": "quantitative", "axis": null},
       "text": {"field": "txt"}}},
    {"transform": [{"filter": "datum.k === 'xa0'"}],
     "mark": {"type": "text", "align": "right", "baseline": "middle", "dx": 11, "dy": -11, "font": "Liberation Mono", "fontWeight": "bold", "fontSize": 14, "color": "black"},
     "encoding": {
       "x": {"field": "t", "type": "quantitative", "axis": null},
       "y": {"datum": 0, "type": "quantitative", "axis": null},
       "text": {"field": "txt"}}},
    {"transform": [{"filter": "datum.k === 'xa1'"}],
     "mark": {"type": "text", "align": "left", "baseline": "middle", "dx": -6, "dy": -11, "font": "Liberation Mono", "fontWeight": "bold", "fontSize": 14, "color": "black"},
     "encoding": {
       "x": {"field": "t", "type": "quantitative", "axis": null},
       "y": {"datum": 0, "type": "quantitative", "axis": null},
       "text": {"field": "txt"}}}
  ]
}
}
